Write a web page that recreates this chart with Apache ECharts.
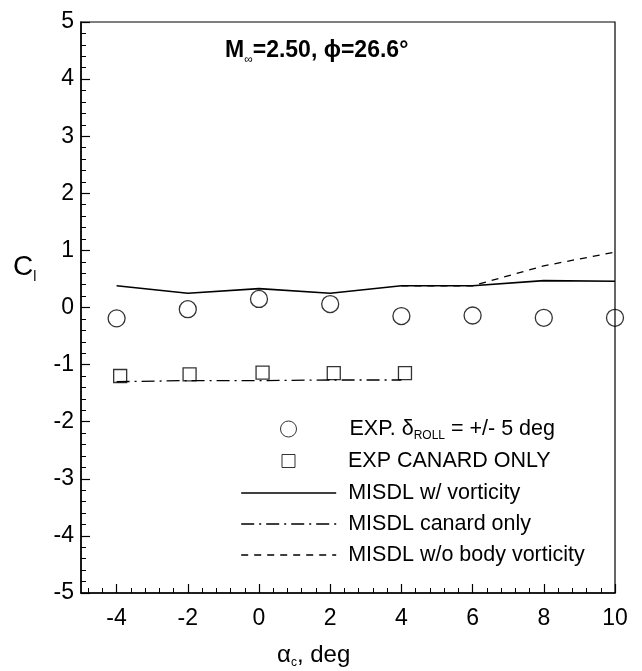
<!DOCTYPE html>
<html>
<head>
<meta charset="utf-8">
<script src="https://cdn.jsdelivr.net/npm/echarts@6/dist/echarts.min.js"></script>
<style>
  html, body { margin: 0; padding: 0; background: #fff; }
  #chart { width: 642px; height: 671px; }
</style>
</head>
<body>
<div id="chart"></div>
<script>
// Roll moment coefficient vs canard deflection, M=2.50, phi=26.6 deg
const alphaTicks = [-4, -2, 0, 2, 4, 6, 8, 10];

const expRollX = [-4, -2, 0, 2, 4, 6, 8, 10];
const expRollY = [-0.19, -0.03, 0.15, 0.06, -0.15, -0.14, -0.18, -0.18];

const expCanardX = [-3.9, -1.95, 0.1, 2.1, 4.1];
const expCanardY = [-1.2, -1.17, -1.14, -1.15, -1.15];

const misdlX = [-4, -2, 0, 2, 4, 6, 8, 10];
const misdlVort = [0.38, 0.25, 0.33, 0.25, 0.38, 0.38, 0.47, 0.46];

const canardX = [-4, -2, 0, 2, 4];
const misdlCanard = [-1.3, -1.28, -1.28, -1.27, -1.27];

const noBodyX = [4, 6, 8, 10];
const misdlNoBody = [0.38, 0.38, 0.73, 0.97];

const FONT = '"Liberation Sans", Arial, Helvetica, sans-serif';

function pairs(xs, ys) { return xs.map((x, i) => [x, ys[i]]); }

// minor tick positions on the alpha axis (every 0.4 deg between labelled ticks)
const minorAlpha = [];
for (let k = 0; k <= 37; k++) {
  const v = Math.round((-5 + 0.2 + k * 0.4) * 100) / 100;
  if (v < 10 && !alphaTicks.includes(v)) minorAlpha.push(v);
}

// legend rows: symbol rows use a box the size of the symbol, centred in the key column
const legendRows = [
  { name: 'EXP. \u03b4ROLL = +/- 5 deg', label: '{a|EXP. \u03b4}{s|ROLL}{a| = +/- 5 deg}', y: 426, w: 16, h: 16, gap: 48, line: false },
  { name: 'EXP CANARD ONLY', label: '{a|EXP CANARD ONLY}', y: 458, w: 13, h: 13, gap: 48, line: false },
  { name: 'MISDL w/ vorticity', label: '{a|MISDL w/ vorticity}', y: 490, w: 95, h: 16, gap: 7, line: true },
  { name: 'MISDL canard only', label: '{a|MISDL canard only}', y: 521, w: 95, h: 16, gap: 7, line: true },
  { name: 'MISDL w/o body vorticity', label: '{a|MISDL w/o body vorticity}', y: 552, w: 95, h: 16, gap: 7, line: true }
];

const chart = echarts.init(document.getElementById('chart'), null, { renderer: 'canvas' });

const option = {
  backgroundColor: '#fff',
  animation: false,
  title: [
    {
      text: '{b|M}{s|\u221e}{b|=2.50, \u03d5=26.6\u00b0}',
      left: 220, top: 31,
      textStyle: {
        rich: {
          b: { fontSize: 23, fontWeight: 'bold', fontFamily: FONT, color: '#000', lineHeight: 30 },
          s: { fontSize: 12, fontWeight: 'normal', fontFamily: FONT, color: '#000', lineHeight: 12, verticalAlign: 'bottom' }
        }
      }
    },
    {
      text: '{c|C}{s|l}',
      left: 8, top: 245,
      textStyle: {
        rich: {
          c: { fontSize: 28, fontWeight: 'normal', fontFamily: FONT, color: '#000', lineHeight: 34 },
          s: { fontSize: 14, fontWeight: 'normal', fontFamily: FONT, color: '#000', lineHeight: 14, verticalAlign: 'bottom' }
        }
      }
    },
    {
      text: '{c|\u03b1}{s|c}{c|, deg}',
      left: 272, top: 636,
      textStyle: {
        rich: {
          c: { fontSize: 24, fontWeight: 'normal', fontFamily: FONT, color: '#000', lineHeight: 28 },
          s: { fontSize: 12, fontWeight: 'normal', fontFamily: FONT, color: '#000', lineHeight: 12, verticalAlign: 'bottom' }
        }
      }
    }
  ],
  grid: {
    left: 81, top: 22, width: 534, height: 571,
    show: true, borderColor: '#000', borderWidth: 1.2, backgroundColor: 'transparent'
  },
  xAxis: [
    {
      type: 'value', min: -5, max: 10, position: 'bottom',
      axisLine: { show: true, onZero: false, lineStyle: { color: '#000', width: 1.5 } },
      axisTick: { show: true, inside: true, length: 9, customValues: alphaTicks, lineStyle: { color: '#000', width: 1.2 } },
      axisLabel: { show: true, customValues: alphaTicks, fontSize: 23, fontFamily: FONT, color: '#000', margin: 14 },
      splitLine: { show: false }
    },
    {
      type: 'value', min: -5, max: 10, position: 'bottom', offset: 0,
      axisLine: { show: false, onZero: false },
      axisTick: { show: true, inside: true, length: 5, customValues: minorAlpha, lineStyle: { color: '#000', width: 1 } },
      axisLabel: { show: false },
      splitLine: { show: false }
    }
  ],
  yAxis: {
    type: 'value', min: -5, max: 5, interval: 1,
    axisLine: { show: true, onZero: false, lineStyle: { color: '#000', width: 1.5 } },
    axisTick: { show: true, inside: true, length: 9, lineStyle: { color: '#000', width: 1.2 } },
    minorTick: { show: true, splitNumber: 5, length: 5, lineStyle: { color: '#000', width: 1 } },
    axisLabel: { fontSize: 23, fontFamily: FONT, color: '#000', margin: 7 },
    splitLine: { show: false },
    minorSplitLine: { show: false }
  },
  legend: legendRows.map(r => ({
    data: [r.name],
    orient: 'vertical',
    left: 283 - r.w / 2,
    top: r.y - 13,
    itemWidth: r.w,
    itemHeight: r.h,
    selectedMode: false,
    itemStyle: r.line ? { opacity: 0 } : { borderWidth: 1 },
    lineStyle: r.line ? { width: 1.4, color: '#000' } : {},
    formatter: () => '{g|}' + r.label,
    textStyle: {
      fontSize: 21.5, fontFamily: FONT, color: '#000',
      rich: {
        g: { width: r.gap },
        a: { fontSize: 21.5, fontFamily: FONT, color: '#000', lineHeight: 26 },
        s: { fontSize: 12, fontFamily: FONT, color: '#000', lineHeight: 12, verticalAlign: 'bottom' }
      }
    }
  })),
  series: [
    {
      name: legendRows[0].name, type: 'scatter', symbol: 'circle', symbolSize: 17,
      itemStyle: { color: 'rgba(255,255,255,0)', borderColor: '#000', borderWidth: 1.3 },
      data: pairs(expRollX, expRollY), z: 5
    },
    {
      name: legendRows[1].name, type: 'scatter', symbol: 'rect', symbolSize: 13,
      itemStyle: { color: 'rgba(255,255,255,0)', borderColor: '#000', borderWidth: 1.3 },
      data: pairs(expCanardX, expCanardY), z: 5
    },
    {
      name: legendRows[2].name, type: 'line', symbol: 'none',
      itemStyle: { color: '#000' },
      lineStyle: { color: '#000', width: 1.6, type: 'solid' },
      data: pairs(misdlX, misdlVort), z: 3
    },
    {
      name: legendRows[3].name, type: 'line', symbol: 'none',
      itemStyle: { color: '#000' },
      lineStyle: { color: '#000', width: 1.3, type: [13, 5, 2, 5] },
      data: pairs(canardX, misdlCanard), z: 3
    },
    {
      name: legendRows[4].name, type: 'line', symbol: 'none',
      itemStyle: { color: '#000' },
      lineStyle: { color: '#000', width: 1.3, type: [7, 6] },
      data: pairs(noBodyX, misdlNoBody), z: 2
    }
  ]
};

chart.setOption(option);
</script>
</body>
</html>
